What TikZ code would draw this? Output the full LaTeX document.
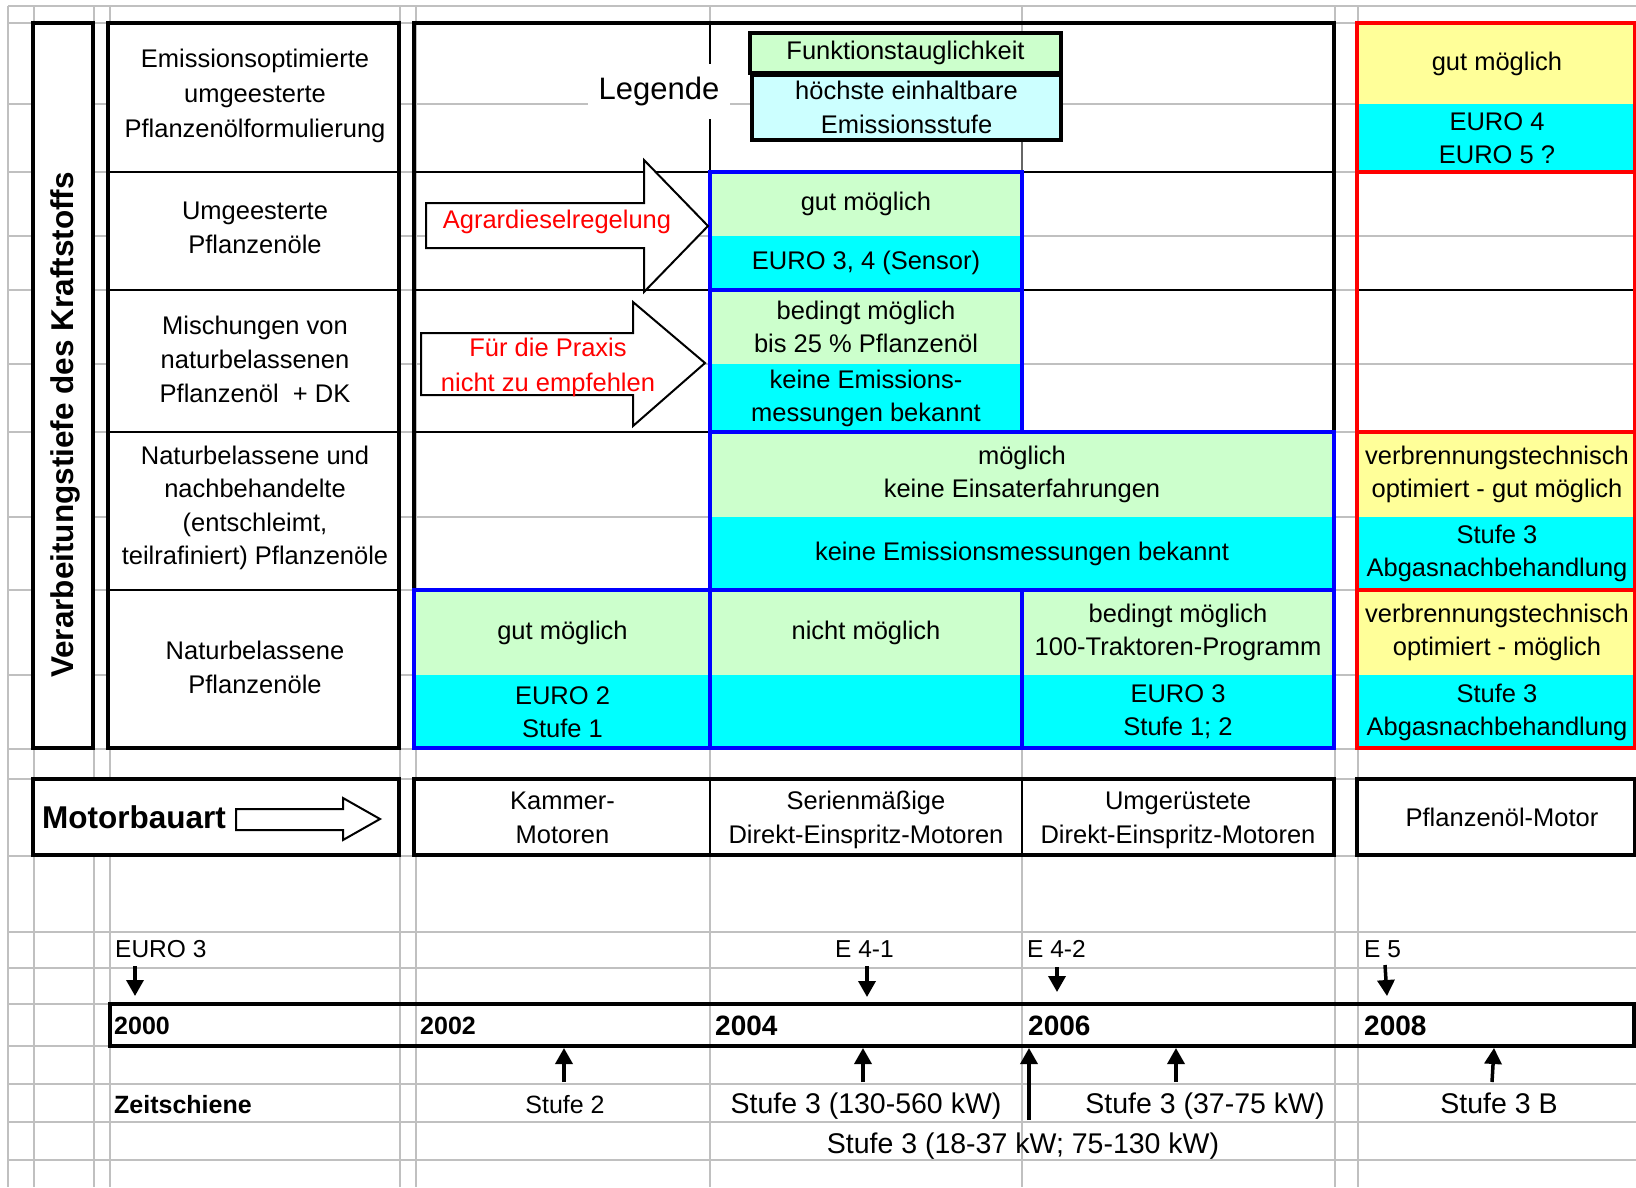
\documentclass[tikz,border=0pt]{standalone}
\usepackage{fontspec}
\setmainfont{Liberation Sans}
\usetikzlibrary{arrows.meta}
\definecolor{cgreen}{HTML}{CCFFCC}
\definecolor{ccyan}{HTML}{00FFFF}
\definecolor{cyellow}{HTML}{FFFF99}
\definecolor{clight}{HTML}{CCFFFF}
\definecolor{cgrid}{HTML}{C0C0C0}
\definecolor{cblue}{HTML}{0000FF}
\definecolor{cred}{HTML}{FF0000}

\begin{document}
\begin{tikzpicture}[x=1pt,y=-1pt,
  txt/.style={font=\fontsize{25.5}{33}\selectfont, align=center, inner sep=0pt},
  cellbox/.style 2 args={txt, minimum width=#1, minimum height=#2},
  gridrule/.style={draw=cgrid, line width=1.4},
  boxframe/.style={draw=black, line width=4},
  thinrule/.style={draw=black, line width=2},
  bluebox/.style={draw=cblue, line width=4},
  redrule/.style={draw=cred, line width=4},
  blockarrow/.style={draw=black, line width=2, fill=white, line join=miter},
  redtxt/.style={txt, text=cred},
  timearrow/.style={line width=3.5, -{Triangle[width=17pt,length=16pt]}},
  eurolabel/.style={font=\fontsize{24.5}{28}\selectfont, inner sep=0pt, anchor=base west},
  yearlabel/.style={font=\bfseries\fontsize{25}{28}\selectfont, inner sep=0pt, anchor=base west},
  bigyear/.style={font=\bfseries\fontsize{28}{32}\selectfont, inner sep=0pt, anchor=base west},
  stage/.style={font=\fontsize{28.5}{32}\selectfont, inner sep=0pt, anchor=base},
]
\fill[white] (0,0) rectangle (1636,1187);
\useasboundingbox (0,0) rectangle (1636,1187);

% spreadsheet grid
\foreach \y in {6,23,104,172,236,290,364,432,517,590,675,749,779,856,932,968,1004,1046,1084,1122,1160}
  \draw[gridrule] (8,\y) -- (1636,\y);
\foreach \x in {8,34,94,110,400,416,710,1022,1335,1358}
  \draw[gridrule] (\x,6) -- (\x,1187);

% left label columns
\filldraw[fill=white, boxframe] (33,23) rectangle (93,748);
\filldraw[fill=white, boxframe] (108,23) rectangle (399,748);
\foreach \y in {172,290,432,590} \draw[thinrule, line width=2.5] (108,\y) -- (399,\y);

\node[rotate=90, font=\bfseries\fontsize{31.5}{36}\selectfont, inner sep=0pt] (vl) at (65,425) {Verarbeitungstiefe des Kraftstoffs};

\node[txt, font=\fontsize{25.5}{35}\selectfont] (l1) at (255,96) {Emissionsoptimierte\\umgeesterte\\Pflanzenölformulierung};
\node[txt, font=\fontsize{25.5}{34}\selectfont] (l2) at (255,228) {Umgeesterte\\Pflanzenöle};
\node[txt, font=\fontsize{25.5}{34}\selectfont] (l3) at (255,359) {Mischungen von\\naturbelassenen\\Pflanzenöl\ \ + DK};
\node[txt, font=\fontsize{25.5}{33.5}\selectfont] (l4) at (255,508) {Naturbelassene und\\nachbehandelte\\(entschleimt,\\teilrafiniert) Pflanzenöle};
\node[txt, font=\fontsize{25.5}{34}\selectfont] (l5) at (255,667) {Naturbelassene\\Pflanzenöle};

% coloured cells of the main table
\node[cellbox={312}{64}, fill=cgreen] (u1) at (866,204) {gut möglich};
\node[cellbox={312}{54}, fill=ccyan] (u2) at (866,263) {EURO 3, 4 (Sensor)};
\node[cellbox={312}{74}, fill=cgreen] (m1) at (866,327) {bedingt möglich\\bis 25 \% Pflanzenöl};
\node[cellbox={312}{68}, fill=ccyan] (m2) at (866,398) {keine Emissions-\\messungen bekannt};
\node[cellbox={624}{85}, fill=cgreen] (n1) at (1022,474.5) {möglich\\keine Einsaterfahrungen};
\node[cellbox={624}{73}, fill=ccyan] (n2) at (1022,553.5) {keine Emissionsmessungen bekannt};
\node[cellbox={295}{85}, fill=cgreen] (p1) at (562.5,632.5) {gut möglich};
\node[cellbox={295}{74}, fill=ccyan] (p2) at (562.5,712) {EURO 2\\Stufe 1};
\node[cellbox={312}{85}, fill=cgreen] (p3) at (866,632.5) {nicht möglich};
\node[cellbox={312}{74}, fill=ccyan] (p4) at (866,712) {};
\node[cellbox={312}{85}, fill=cgreen] (p5) at (1178,632.5) {bedingt möglich\\100-Traktoren-Programm};
\node[cellbox={312}{74}, fill=ccyan] (p6) at (1178,712) {EURO 3\\Stufe 1; 2};

% plant-oil engine column
\node[cellbox={278}{81}, fill=cyellow] (q1) at (1497,63.5) {gut möglich};
\node[cellbox={278}{68}, fill=ccyan] (q2) at (1497,138) {EURO 4\\EURO 5 ?};
\node[cellbox={278}{85}, fill=cyellow] (q3) at (1497,474.5) {verbrennungstechnisch\\optimiert - gut möglich};
\node[cellbox={278}{73}, fill=ccyan] (q4) at (1497,553.5) {Stufe 3\\Abgasnachbehandlung};
\node[cellbox={278}{85}, fill=cyellow] (q5) at (1497,632.5) {verbrennungstechnisch\\optimiert - möglich};
\node[cellbox={278}{74}, fill=ccyan] (q6) at (1497,712) {Stufe 3\\Abgasnachbehandlung};

% rules of the main table
\draw[thinrule] (414,172) -- (1334,172);
\draw[thinrule] (414,290) -- (1334,290);
\draw[thinrule] (414,432) -- (710,432);
\draw[thinrule] (710,23) -- (710,172);
\draw[black!60, line width=1.5] (1022,140) -- (1022,172);
\draw[boxframe] (414,23) rectangle (1334,748);
\draw[bluebox] (710,172) rectangle (1022,432);
\draw[bluebox] (710,290) -- (1022,290);
\draw[bluebox] (710,432) rectangle (1334,590);
\draw[bluebox] (414,590) rectangle (1334,748);
\draw[bluebox] (710,590) -- (710,748) (1022,590) -- (1022,748);

\draw[thinrule] (1357,290) -- (1635,290);
\draw[redrule] (1357,23) rectangle (1635,748);
\draw[redrule] (1357,172) -- (1635,172) (1357,432) -- (1635,432) (1357,590) -- (1635,590);

% legend
\node[txt, fill=cgreen, draw, line width=3.5, minimum width=311, minimum height=40] (lg1) at (905.5,53) {Funktionstauglichkeit};
\node[txt, font=\fontsize{25.5}{34}\selectfont, fill=clight, draw, line width=3.5, minimum width=309, minimum height=65] (lg2) at (906.5,107.5) {höchste einhaltbare\\Emissionsstufe};
\node[font=\fontsize{31}{36}\selectfont, fill=white, inner xsep=10.5, inner ysep=13] (leg) at (659,91.5) {Legende};

% block arrows
\draw[blockarrow] (426,203) -- (644,203) -- (644,160) -- (708,226) -- (644,292) -- (644,248) -- (426,248) -- cycle;
\node[redtxt] (agr) at (557,222) {Agrardieselregelung};
\draw[blockarrow] (421,333) -- (633,333) -- (633,302) -- (705,363) -- (633,426) -- (633,395) -- (421,395) -- cycle;
\node[redtxt, font=\fontsize{25.5}{35}\selectfont] (prx) at (548,367) {Für die Praxis\\nicht zu empfehlen};

% engine types
\filldraw[fill=white, boxframe] (33,779) rectangle (399,855);
\node[anchor=west, font=\bfseries\fontsize{31.5}{36}\selectfont, inner sep=0pt] (mot) at (42,817) {Motorbauart};
\draw[blockarrow] (236,809) -- (343,809) -- (343,798) -- (380,819) -- (343,840) -- (343,830) -- (236,830) -- cycle;
\filldraw[fill=white, boxframe] (414,779) rectangle (1334,855);
\draw[thinrule] (710,779) -- (710,855) (1022,779) -- (1022,855);
\filldraw[fill=white, boxframe] (1357,779) rectangle (1635,855);
\node[txt, font=\fontsize{25.5}{34}\selectfont] (k1) at (562.5,818) {Kammer-\\Motoren};
\node[txt, font=\fontsize{25.5}{34}\selectfont] (k2) at (866,820) {Serienmäßige\\Direkt-Einspritz-Motoren};
\node[txt, font=\fontsize{25.5}{34}\selectfont] (k3) at (1178,820) {Umgerüstete\\Direkt-Einspritz-Motoren};
\node[txt] (k4) at (1502,817) {Pflanzenöl-Motor};

% time line
\draw[line width=3.5] (110,1004) rectangle (1634,1046);
\node[yearlabel] (y0) at (114,1034) {2000};
\node[yearlabel] (y2) at (420,1034) {2002};
\node[bigyear] (y4) at (715,1035) {2004};
\node[bigyear] (y6) at (1028,1035) {2006};
\node[bigyear] (y8) at (1364,1035) {2008};

\node[eurolabel] (e3) at (115,957) {EURO 3};
\node[eurolabel] (e41) at (835,957) {E\ 4-1};
\node[eurolabel] (e42) at (1027,957) {E\ 4-2};
\node[eurolabel] (e5) at (1364,957) {E 5};

\coordinate (d1s) at (135,966);  \coordinate (d1e) at (135,996);
\coordinate (d2s) at (867,966);  \coordinate (d2e) at (867,997);
\coordinate (d3s) at (1057,967); \coordinate (d3e) at (1057,992);
\coordinate (d4s) at (1385,965); \coordinate (d4e) at (1387,996);
\draw[timearrow] (d1s) -- (d1e);
\draw[timearrow] (d2s) -- (d2e);
\draw[timearrow] (d3s) -- (d3e);
\draw[timearrow] (d4s) -- (d4e);

\coordinate (u1s) at (564,1082);  \coordinate (u1e) at (564,1048);
\coordinate (u2s) at (863,1082);  \coordinate (u2e) at (863,1048);
\coordinate (u3s) at (1029,1120); \coordinate (u3e) at (1029,1048);
\coordinate (u4s) at (1176,1082); \coordinate (u4e) at (1176,1048);
\coordinate (u5s) at (1492,1082); \coordinate (u5e) at (1494,1048);
\draw[timearrow] (u1s) -- (u1e);
\draw[timearrow] (u2s) -- (u2e);
\draw[timearrow] (u3s) -- (u3e);
\draw[timearrow] (u4s) -- (u4e);
\draw[timearrow] (u5s) -- (u5e);

\node[yearlabel] (zs) at (114,1113) {Zeitschiene};
\node[font=\fontsize{25}{28}\selectfont, inner sep=0pt, anchor=base] (st2) at (565,1113) {Stufe 2};
\node[stage] (st3a) at (866,1113) {Stufe 3 (130-560 kW)};
\node[stage] (st3b) at (1205,1113) {Stufe 3 (37-75 kW)};
\node[stage] (st3c) at (1499,1113) {Stufe 3 B};
\node[stage] (st3d) at (1023,1153) {Stufe 3 (18-37 kW; 75-130 kW)};
\end{tikzpicture}
\end{document}
